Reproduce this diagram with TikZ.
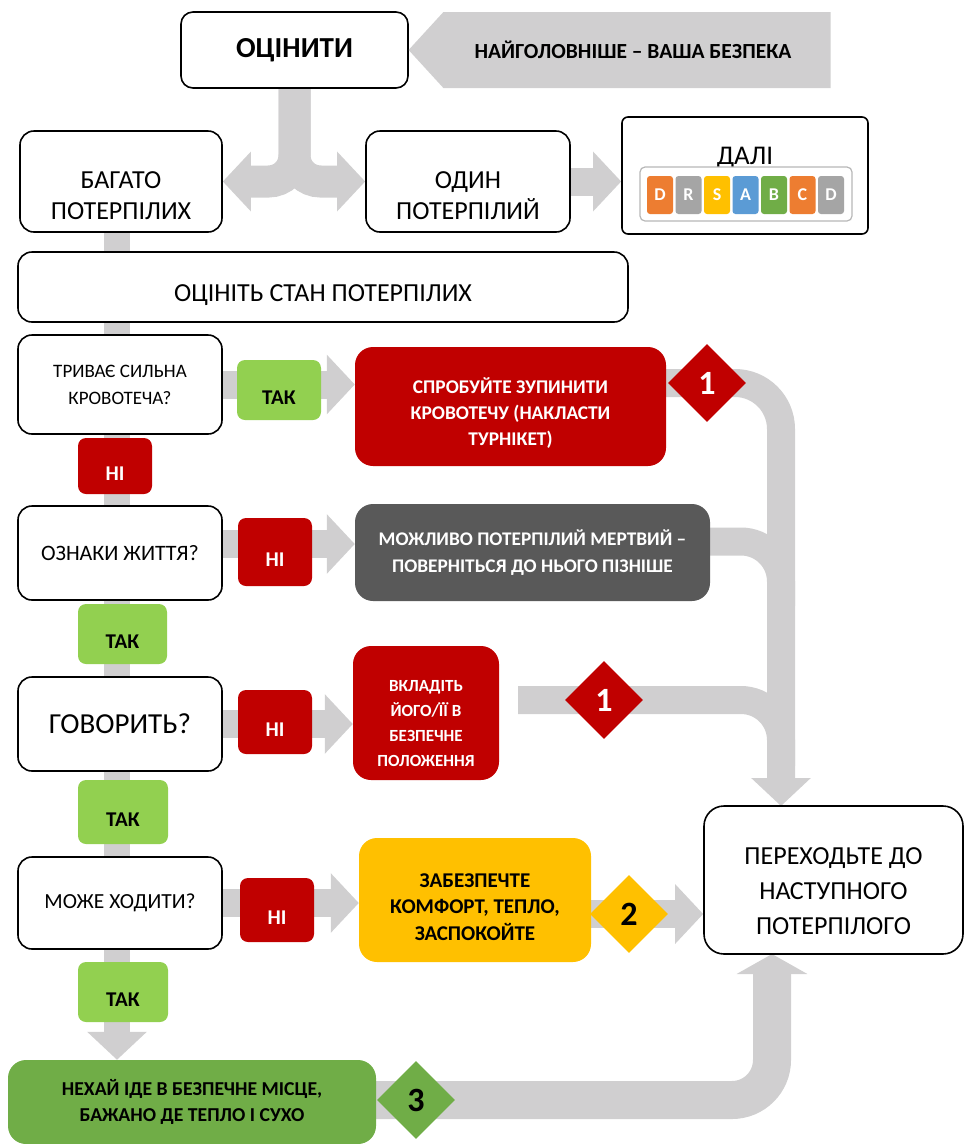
\documentclass[tikz,border=0pt]{standalone}
\usepackage{fontspec}
\setmainfont{Carlito}
\usetikzlibrary{arrows.meta,shapes.geometric,shapes.symbols,backgrounds}

\definecolor{bandgray}{RGB}{208,207,208}
\definecolor{nored}{RGB}{192,0,0}
\definecolor{yesgreen}{RGB}{146,208,80}
\definecolor{leafgreen}{RGB}{112,173,71}
\definecolor{amber}{RGB}{255,192,0}
\definecolor{slate}{RGB}{89,89,89}
\definecolor{drorange}{RGB}{237,125,49}
\definecolor{drgray}{RGB}{165,165,165}
\definecolor{drblue}{RGB}{91,155,213}

\tikzset{
  whitebox/.style={draw=black, line width=1.6pt, rounded corners=14pt, fill=white, align=center, inner sep=0pt},
  tagbox/.style={rounded corners=8pt, inner sep=0pt, text height=29pt, text depth=0pt, font=\bfseries\fontsize{21}{24}\selectfont},
  yestag/.style={tagbox, fill=yesgreen, text=black},
  notag/.style={tagbox, fill=nored, text=white},
  actbox/.style={rounded corners=18pt, inner sep=0pt, align=center},
  band/.style={draw=bandgray, line width=28pt},
  bandtip/.style={-{Triangle[length=28pt,width=58pt]}},
  badge/.style={diamond, inner sep=0pt, minimum width=78pt, minimum height=78pt, font=\bfseries\fontsize{34}{34}\selectfont},
  drbox/.style={rounded corners=3pt, inner sep=0pt, minimum width=26pt, minimum height=38pt, text=white, font=\bfseries\fontsize{18}{18}\selectfont}
}

\begin{document}
\begin{tikzpicture}[x=1pt, y=-1pt]
  \useasboundingbox (0,0) rectangle (965,1144);

  % top row
  \node[whitebox, rounded corners=12pt, minimum width=227pt, minimum height=76pt, font=\bfseries\fontsize{29}{29}\selectfont] (assess) at (294.5,50) {ОЦІНИТИ};
  \node[signal, signal to=west, signal from=nowhere, signal pointer angle=95, fill=bandgray, minimum width=422pt, minimum height=76pt, inner sep=0pt, font=\bfseries\fontsize{21.5}{21.5}\selectfont] (safety) at (637,50) {\hspace{-8pt}НАЙГОЛОВНІШЕ – ВАША БЕЗПЕКА};

  \node[whitebox, minimum width=202pt, minimum height=101pt, label={[align=center, font=\fontsize{26}{31}\selectfont, yshift=-14pt]center:БАГАТО\\ПОТЕРПІЛИХ}] (many) at (121,181.5) {};
  \node[whitebox, minimum width=204pt, minimum height=101pt, label={[align=center, font=\fontsize{26}{31}\selectfont, yshift=-14pt]center:ОДИН\\ПОТЕРПІЛИЙ}] (single) at (468,181.5) {};
  \node[whitebox, rounded corners=6pt, minimum width=246pt, minimum height=117pt, label={[font=\fontsize{27}{27}\selectfont, yshift=18pt]center:ДАЛІ}] (next) at (745,175.5) {};
  \node[draw=drgray!80, line width=1.2pt, rounded corners=5pt, minimum width=212pt, minimum height=54pt, fill=white] (strip) at (746,194) {};
  \foreach \i/\l/\c in {0/D/drorange, 1/R/drgray, 2/S/amber, 3/A/drblue, 4/B/leafgreen, 5/C/drorange, 6/D/drgray} {
    \node[drbox, fill=\c] (dr\i) at ({660+28.5*\i},195) {\l};
  }

  \node[whitebox, minimum width=610pt, minimum height=70pt, label={[font=\fontsize{26}{26}\selectfont, yshift=-8pt]center:ОЦІНІТЬ СТАН ПОТЕРПІЛИХ}] (state) at (323,287) {};

  % questions
  \node[whitebox, minimum width=204pt, minimum height=99pt, font=\fontsize{19}{27}\selectfont] (bleed) at (120,384.5) {ТРИВАЄ СИЛЬНА\\КРОВОТЕЧА?};
  \node[whitebox, minimum width=204pt, minimum height=94pt, font=\fontsize{22}{22}\selectfont] (alive) at (120,553) {ОЗНАКИ ЖИТТЯ?};
  \node[whitebox, minimum width=204pt, minimum height=94pt, font=\fontsize{29}{29}\selectfont] (talk) at (120,724) {ГОВОРИТЬ?};
  \node[whitebox, minimum width=204pt, minimum height=92pt, font=\fontsize{21.5}{21.5}\selectfont] (walk) at (120,903) {МОЖЕ ХОДИТИ?};

  % answers
  \node[yestag, minimum width=84pt, minimum height=60pt] (yes1) at (279,390) {ТАК};
  \node[notag, minimum width=74pt, minimum height=56pt] (no1) at (115,466) {НІ};
  \node[notag, minimum width=74pt, minimum height=68pt] (no2) at (275,552) {НІ};
  \node[yestag, minimum width=89pt, minimum height=60pt] (yes2) at (122.5,634) {ТАК};
  \node[notag, minimum width=74pt, minimum height=64pt] (no3) at (275,722) {НІ};
  \node[yestag, minimum width=90pt, minimum height=64pt] (yes3) at (123,812) {ТАК};
  \node[notag, minimum width=74pt, minimum height=64pt] (no4) at (277,910) {НІ};
  \node[yestag, minimum width=90pt, minimum height=60pt] (yes4) at (123,992) {ТАК};

  % actions
  \node[actbox, fill=nored, minimum width=311pt, minimum height=119pt, label={[align=center, text=white, font=\bfseries\fontsize{19.4}{26}\selectfont, yshift=-7pt]center:СПРОБУЙТЕ ЗУПИНИТИ\\КРОВОТЕЧУ (НАКЛАСТИ\\ТУРНІКЕТ)}] (tourniquet) at (510.5,406.5) {};
  \node[actbox, fill=slate, minimum width=355pt, minimum height=97pt, text=white, font=\bfseries\fontsize{19.3}{27}\selectfont] (dead) at (532.5,552.5) {МОЖЛИВО ПОТЕРПІЛИЙ МЕРТВИЙ –\\ПОВЕРНІТЬСЯ ДО НЬОГО ПІЗНІШЕ};
  \node[actbox, fill=nored, minimum width=146pt, minimum height=134pt, label={[align=center, text=white, font=\bfseries\fontsize{17}{25}\selectfont, yshift=-11pt]center:ВКЛАДІТЬ\\ЙОГО/ЇЇ В\\БЕЗПЕЧНЕ\\ПОЛОЖЕННЯ}] (recovery) at (426,713) {};
  \node[actbox, fill=amber, minimum width=232pt, minimum height=124pt, label={[align=center, font=\bfseries\fontsize{21}{26.5}\selectfont, yshift=-7pt]center:ЗАБЕЗПЕЧТЕ\\КОМФОРТ, ТЕПЛО,\\ЗАСПОКОЙТЕ}] (comfort) at (475,900) {};
  \node[actbox, fill=leafgreen, minimum width=368pt, minimum height=84pt, font=\bfseries\fontsize{19.7}{26}\selectfont] (safe) at (192,1102) {НЕХАЙ ІДЕ В БЕЗПЕЧНЕ МІСЦЕ,\\БАЖАНО ДЕ ТЕПЛО І СУХО};
  \node[whitebox, rounded corners=20pt, minimum width=259pt, minimum height=148pt, label={[align=center, font=\fontsize{26}{35}\selectfont, yshift=-11pt]center:ПЕРЕХОДЬТЕ ДО\\НАСТУПНОГО\\ПОТЕРПІЛОГО}] (nextone) at (833.5,880) {};

  % priority marks
  \node[badge, fill=nored, text=white] (onea) at (707,383) {1};
  \node[badge, fill=nored, text=white] (oneb) at (604,700) {1};
  \node[badge, fill=amber] (two) at (629,914) {2};
  \node[badge, fill=leafgreen] (three) at (416,1100) {3};

  \coordinate (rail) at (781,806);
  \coordinate (railb) at (772,954);

  % grey flow bands
  \begin{scope}[on background layer]
    \draw[band, line width=32pt, rounded corners=26pt, bandtip] (assess.south) |- (many.east);
    \draw[band, line width=32pt, rounded corners=26pt, bandtip] (assess.south) |- (single.west);
    \draw[band, bandtip] (single.east) -- (single.east -| next.west);
    \draw[band, line width=26pt, bandtip] ([xshift=-4pt]many.south) -- ([xshift=-4pt]many.south |- safe.north);

    \draw[band, bandtip] (bleed.east) -- (bleed.east -| tourniquet.west);
    \draw[band, bandtip] ([yshift=9pt]alive.east) -- ([yshift=9pt]alive.east -| dead.west);
    \draw[band, bandtip] (talk.east) -- (talk.east -| recovery.west);
    \draw[band, bandtip] (walk.east) -- (walk.east -| comfort.west);

    \draw[band, rounded corners=46pt, bandtip] (tourniquet.east |- onea.center) -| (rail);
    \draw[band, rounded corners=40pt] ([yshift=11pt]dead.east) -| ([yshift=200pt]rail);
    \draw[band, rounded corners=40pt] ([xshift=19pt]recovery.east |- oneb.center) -| ([yshift=40pt]rail);
    \draw[band, bandtip] (comfort.east |- two.center) -- (two.center -| nextone.west);
    \draw[band, line width=38pt, rounded corners=40pt, -{Triangle[length=20pt,width=70pt]}] (safe.east |- three.center) -| (railb);
  \end{scope}
\end{tikzpicture}
\end{document}
